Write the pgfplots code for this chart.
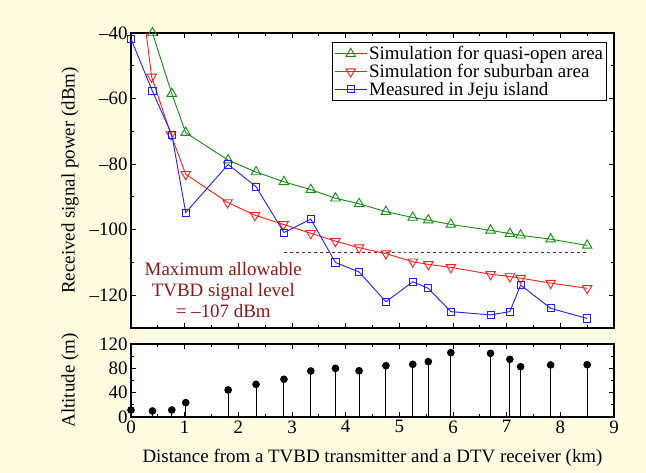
\documentclass[border=0pt]{standalone}
\usepackage{pgfplots}
\pgfplotsset{compat=1.18}
\usepackage{fontspec}
\setmainfont{Liberation Serif}
\definecolor{bg}{RGB}{255,252,226}
\definecolor{cgreen}{RGB}{20,140,20}
\definecolor{cred}{RGB}{255,30,30}
\definecolor{cblue}{RGB}{30,30,255}
\definecolor{dred}{RGB}{140,25,25}
\begin{document}
\begin{tikzpicture}[font=\fontsize{19}{21}\selectfont]
\fill[bg] (-131bp,-145bp) rectangle (515bp,328bp);
\pgfplotsset{every axis/.append style={
  scale only axis, width=483bp, xmin=0, xmax=9,
  tick align=inside,
  axis line style={line width=1.2bp},
  major tick length=5bp, minor tick length=3bp,
  every tick/.style={black, line width=0.8bp},
  tick label style={font=\fontsize{19}{21}\selectfont},
  label style={font=\fontsize{19}{21}\selectfont},
  /pgf/number format/assume math mode=true,
  axis background/.style={fill=white},
  xtick={0,1,...,9}, minor x tick num=1,
}}
\begin{axis}[
  height=295bp, ymin=-130, ymax=-40,
  xticklabels={},
  ytick={-120,-100,-80,-60,-40},
  yticklabels={--120,--100,--80,--60,--40},
  minor y tick num=1,
  ylabel={Received signal power (dBm)},
  ylabel style={at={(axis description cs:-0.126,0.5)}, anchor=center},
  legend cell align=left,
  legend image code/.code={\draw[mark repeat=2,mark phase=2,#1] plot coordinates {(0bp,0bp) (16bp,0bp) (32bp,0bp)};},
  legend style={at={(axis description cs:0.9855,0.968)}, anchor=north east,
    draw=black, line width=0.8bp, font=\fontsize{19}{20}\selectfont,
    inner sep=1.5bp, row sep=-1bp},
]
\addplot[cgreen, line width=0.9bp, mark=triangle, mark size=5.5bp, mark options={solid, line width=0.9bp}] coordinates {
(0.40,-40.0) (0.76,-58.5) (1.02,-70.4) (1.81,-78.8) (2.33,-82.4) (2.85,-85.4)
(3.35,-87.8) (3.81,-90.4) (4.25,-92.1) (4.75,-94.5) (5.25,-96.3) (5.54,-97.1)
(5.96,-98.4) (6.70,-100.2) (7.06,-101.2) (7.26,-101.7) (7.82,-102.9) (8.50,-104.8)};
\addlegendentry{Simulation for quasi-open area}
\addplot[cred, line width=0.9bp, mark=triangle, mark size=5.5bp, mark options={solid, rotate=180, line width=0.9bp}] coordinates {
(0.0,-3) (0.385,-53.4) (0.745,-71.0) (1.02,-83.1) (1.80,-91.7) (2.31,-95.6) (2.84,-98.4)
(3.35,-101.1) (3.81,-103.5) (4.25,-105.5) (4.75,-107.3) (5.25,-109.8) (5.54,-110.6)
(5.96,-111.5) (6.70,-113.6) (7.06,-114.3) (7.26,-114.8) (7.82,-116.3) (8.50,-117.9)};
\addlegendentry{Simulation for suburban area}
\addplot[cblue, line width=0.9bp, mark=square, mark size=3.6bp, mark options={solid, line width=0.9bp}] coordinates {
(0.0,-41.8) (0.40,-57.8) (0.76,-71.0) (1.02,-94.8) (1.81,-80.1) (2.33,-86.9)
(2.85,-100.9) (3.35,-96.8) (3.81,-110.0) (4.25,-112.9) (4.75,-122.0) (5.25,-115.9)
(5.54,-117.9) (5.96,-125.0) (6.70,-126.0) (7.06,-125.0) (7.26,-116.9) (7.82,-124.0) (8.50,-127.1)};
\addlegendentry{Measured in Jeju island}
\addplot[dred, dashed, line width=0.9bp, forget plot] coordinates {(2.85,-107) (8.53,-107)};
\node[dred, align=center, font=\fontsize{19}{21}\selectfont] at (axis cs:1.72,-118.3) {Maximum allowable\\TVBD signal level\\= --107 dBm};
\end{axis}
\begin{axis}[
  at={(0,-16bp)}, anchor=north west,
  height=73bp, ymin=0, ymax=120,
  ytick={0,40,80,120}, minor y tick num=1,
  ylabel={Altitude (m)},
  ylabel style={at={(axis description cs:-0.126,0.5)}, anchor=center},
  xlabel={Distance from a TVBD transmitter and a DTV receiver (km)},
  xlabel style={at={(axis description cs:0.5,-0.56)}, anchor=center},
]
\addplot[black, ycomb, line width=1bp, mark=*, mark size=3.3bp] coordinates {
(0,11.5) (0.40,9.9) (0.76,11.5) (1.02,23.6) (1.81,44.4) (2.33,53.7) (2.85,62)
(3.35,75.6) (3.81,80) (4.25,76) (4.75,84.4) (5.25,86.6) (5.54,91) (5.96,105.8)
(6.70,104.7) (7.06,94.8) (7.26,82.7) (7.82,85.5) (8.50,86)};
\end{axis}
\end{tikzpicture}
\end{document}
